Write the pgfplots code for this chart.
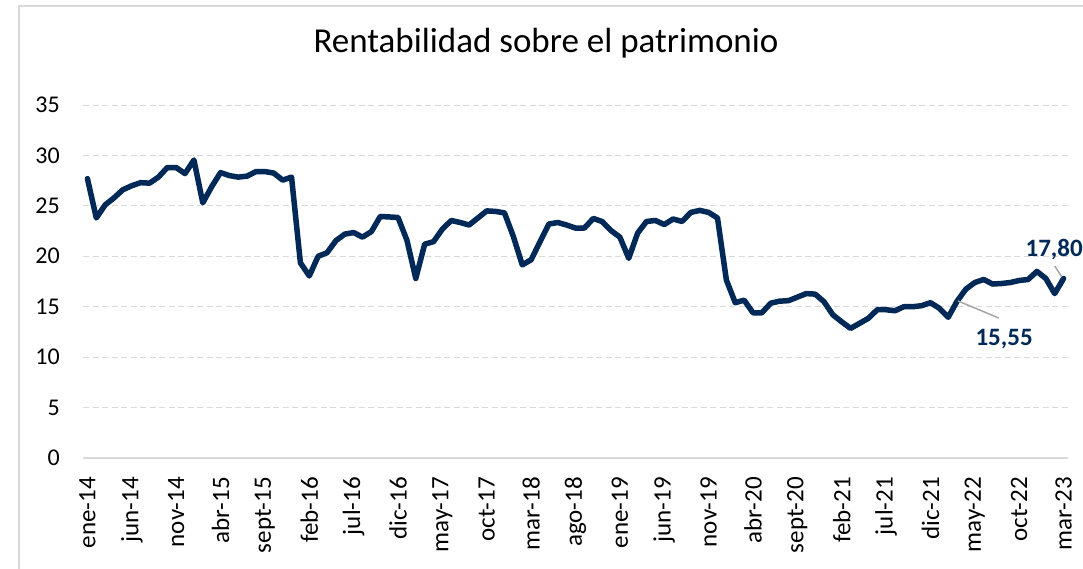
\documentclass[border=0pt]{standalone}
\usepackage{pgfplots}
\pgfplotsset{compat=1.18}
\usepackage{fontspec}
\setmainfont{Carlito}
\definecolor{navy}{RGB}{0,41,87}
\definecolor{gridgray}{RGB}{217,217,217}
\definecolor{leader}{RGB}{166,166,166}
\begin{document}
\begin{tikzpicture}[x=1pt,y=1pt]
\path[use as bounding box, clip] (0,0) rectangle (1083,568);
\fill[white] (0,0) rectangle (1083,568);
\draw[gridgray, line width=2pt] (19,-5) -- (19,562) -- (1090,562);
\node[anchor=base, font=\fontsize{35}{40}\selectfont] at (546,515) {Rentabilidad sobre el patrimonio};
\begin{axis}[
  at={(83pt,110pt)}, anchor=south west,
  width=985pt, height=353pt, scale only axis,
  xmin=-0.5, xmax=110.5, ymin=0, ymax=35,
  ytick={0,5,...,35},
  xtick={0,5,...,110},
  xticklabels={ene-14,jun-14,nov-14,abr-15,sept-15,feb-16,jul-16,dic-16,may-17,oct-17,mar-18,ago-18,ene-19,jun-19,nov-19,abr-20,sept-20,feb-21,jul-21,dic-21,may-22,oct-22,mar-23},
  axis line style={draw=none},
  major tick length=0pt,
  ymajorgrids,
  grid style={dash pattern=on 6pt off 3.5pt, line width=1pt, gridgray},
  tick label style={text=black},
  /pgf/number format/assume math mode=true,
  yticklabel style={anchor=east, inner sep=0pt, font=\fontsize{24}{24}\selectfont},
  yticklabel shift=23pt,
  xticklabel style={rotate=90, anchor=east, inner sep=0pt, font=\fontsize{25}{25}\selectfont},
  xticklabel shift=19pt,
  clip=false,
]
\draw[gridgray, line width=1.5pt] (axis cs:-0.5,0) -- (axis cs:110.5,0);
\addplot[navy, line width=5.5pt, line join=round, line cap=round, mark=none] coordinates {
(0,27.7)(1,23.8)(2,25.1)(3,25.8)(4,26.6)(5,27.0)(6,27.3)(7,27.25)(8,27.85)(9,28.8)
(10,28.8)(11,28.2)(12,29.55)(13,25.3)(14,26.9)(15,28.3)(16,28.0)(17,27.85)(18,27.95)(19,28.4)
(20,28.4)(21,28.25)(22,27.55)(23,27.85)(24,19.35)(25,18.05)(26,20.0)(27,20.35)(28,21.55)(29,22.2)
(30,22.35)(31,21.9)(32,22.45)(33,23.95)(34,23.9)(35,23.85)(36,21.6)(37,17.8)(38,21.2)(39,21.45)
(40,22.7)(41,23.55)(42,23.35)(43,23.1)(44,23.8)(45,24.5)(46,24.45)(47,24.3)(48,21.95)(49,19.15)
(50,19.65)(51,21.45)(52,23.2)(53,23.35)(54,23.1)(55,22.8)(56,22.8)(57,23.75)(58,23.45)(59,22.55)
(60,21.9)(61,19.8)(62,22.3)(63,23.45)(64,23.55)(65,23.15)(66,23.7)(67,23.45)(68,24.35)(69,24.55)
(70,24.35)(71,23.8)(72,17.65)(73,15.4)(74,15.65)(75,14.4)(76,14.4)(77,15.35)(78,15.55)(79,15.6)
(80,15.95)(81,16.3)(82,16.25)(83,15.5)(84,14.2)(85,13.5)(86,12.85)(87,13.35)(88,13.85)(89,14.7)
(90,14.7)(91,14.6)(92,15.0)(93,15.0)(94,15.1)(95,15.4)(96,14.85)(97,13.95)(98,15.55)(99,16.75)
(100,17.4)(101,17.7)(102,17.25)(103,17.3)(104,17.4)(105,17.6)(106,17.7)(107,18.5)(108,17.8)(109,16.3)
(110,17.8)
};
\draw[leader, line width=1.5pt] (axis cs:98.1,15.57) -- (axis cs:102.7,13.88);
\node[navy, font=\fontsize{25}{25}\selectfont\bfseries] at (axis cs:103.3,11.8) {15,55};
\draw[leader, line width=1.5pt] (axis cs:109.0,19.04) -- (axis cs:109.8,17.95);
\node[navy, anchor=west, inner sep=0pt, font=\fontsize{25}{25}\selectfont\bfseries] at (axis cs:105.7,20.67) {17,80};
\end{axis}
\end{tikzpicture}
\end{document}
